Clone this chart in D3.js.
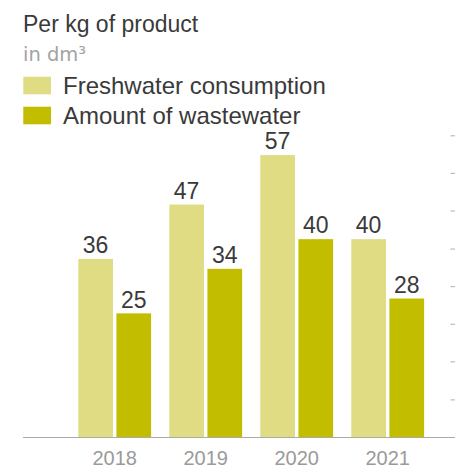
<!DOCTYPE html>
<html>
<head>
<meta charset="utf-8">
<script src="https://cdn.jsdelivr.net/npm/d3@7"></script>
<style>
  html, body { margin: 0; padding: 0; background: #fff; }
  svg { display: block; }
</style>
</head>
<body>
<svg id="chart" width="455" height="468"></svg>
<script>
const years = ["2018", "2019", "2020", "2021"];
const seriesNames = ["Freshwater consumption", "Amount of wastewater"];
const freshwater = [36, 47, 57, 40];
const wastewater = [25, 34, 40, 28];
const gridTicks = [7.6, 15.3, 22.9, 30.5, 38.1, 45.8, 53.4, 61];
const colors = ["#e0dc84", "#c3bd00"];

const svg = d3.select("#chart");
const font = "'Liberation Sans', Arial, Helvetica, sans-serif";
const baseY = 437;

const y = d3.scaleLinear().domain([0, 61]).range([baseY, 135.3]);
const x0 = d3.scaleBand().domain(years).range([69.2, 433.2]).paddingInner(0.2).paddingOuter(0.1);
const x1 = d3.scaleBand().domain(seriesNames).range([0, x0.bandwidth()]).paddingInner(0.09);

// title
svg.append("text").attr("x", 23).attr("y", 32.3)
  .attr("font-family", font).attr("font-size", 23).attr("fill", "#3a3a3a")
  .text("Per kg of product");
svg.append("text").attr("x", 23).attr("y", 61)
  .attr("font-family", "'DejaVu Sans', sans-serif").attr("font-size", 19.5).attr("fill", "#a3a3a3")
  .text("in dm³");

// legend
const legend = svg.append("g");
seriesNames.forEach((s, i) => {
  const ly = 76.7 + i * 30;
  legend.append("rect").attr("x", 23.3).attr("y", ly).attr("width", 27.7).attr("height", 17.6).attr("fill", colors[i]);
  legend.append("text").attr("x", 63).attr("y", ly + 17.6)
    .attr("font-family", font).attr("font-size", 24).attr("fill", "#3a3a3a")
    .text(s);
});

// right-hand tick marks
const yAxis = d3.axisRight(y).tickValues(gridTicks).tickSize(4.5).tickFormat("");
const ya = svg.append("g").attr("transform", "translate(450.5,0)").call(yAxis);
ya.select(".domain").remove();
ya.selectAll(".tick line").attr("stroke", "#b0b0b0").attr("stroke-width", 1);

// bars
const data = years.map((yr, i) => ({ year: yr, values: [freshwater[i], wastewater[i]] }));
const groups = svg.append("g").selectAll("g").data(data).join("g")
  .attr("transform", d => `translate(${x0(d.year)},0)`);

groups.selectAll("rect").data(d => d.values.map((v, i) => ({ key: seriesNames[i], v, i })))
  .join("rect")
  .attr("x", d => x1(d.key))
  .attr("y", d => y(d.v))
  .attr("width", x1.bandwidth())
  .attr("height", d => baseY - y(d.v))
  .attr("fill", d => colors[d.i]);

groups.selectAll("text.val").data(d => d.values.map((v, i) => ({ key: seriesNames[i], v, i })))
  .join("text").attr("class", "val")
  .attr("x", d => x1(d.key) + x1.bandwidth() / 2)
  .attr("y", d => y(d.v) - 5.7)
  .attr("text-anchor", "middle")
  .attr("font-family", font).attr("font-size", 23).attr("fill", "#3a3a3a")
  .text(d => d.v);

// x axis
const xAxis = d3.axisBottom(x0).tickSize(0).tickPadding(0);
const xa = svg.append("g").attr("transform", `translate(0,${baseY})`).call(xAxis);
xa.select(".domain").remove();
xa.selectAll(".tick text")
  .attr("dy", null).attr("y", 28)
  .attr("font-family", font).attr("font-size", 20).attr("fill", "#9a9a9a");

svg.append("line").attr("x1", 23).attr("x2", 455).attr("y1", baseY + 0.5).attr("y2", baseY + 0.5)
  .attr("stroke", "#aaaaaa").attr("stroke-width", 1);
</script>
</body>
</html>
